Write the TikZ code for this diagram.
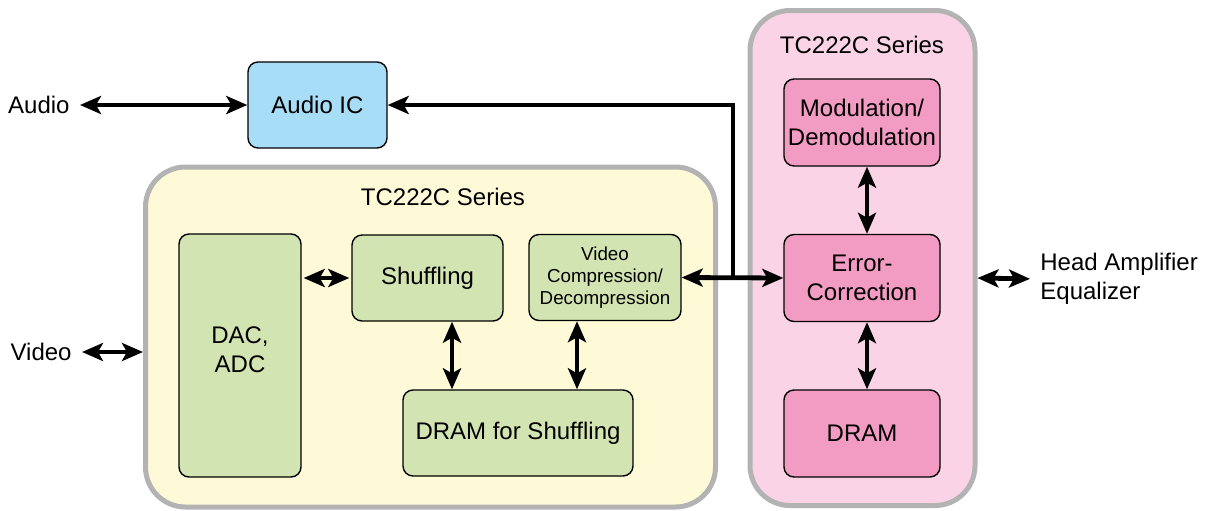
\documentclass[tikz,border=0pt]{standalone}
\usepackage{fontspec}
\setmainfont{Liberation Sans}
\usetikzlibrary{positioning,shapes,arrows.meta}
\definecolor{icblue}{HTML}{A8DDF8}
\definecolor{boxgreen}{HTML}{D2E4B1}
\definecolor{areayellow}{HTML}{FEFAD8}
\definecolor{arealpink}{HTML}{FAD4E6}
\definecolor{boxpink}{HTML}{F39CC3}
\definecolor{framegray}{HTML}{B3B3B3}
\tikzset{
	blk/.style={draw=black,line width=0.7pt,rounded corners=5pt,align=center,inner sep=1pt,
		font=\fontsize{12}{14.5}\selectfont},
	grnblk/.style={blk,fill=boxgreen},
	pnkblk/.style={blk,fill=boxpink,minimum width=78pt,minimum height=43.5pt},
	area/.style={draw=framegray,line width=2.5pt,rounded corners=20pt},
	lbl/.style={inner sep=1pt,align=left,font=\fontsize{12}{14.5}\selectfont},
	biarrow/.style={line width=2.4pt,{Stealth[length=10.5pt,width=9pt,inset=2.5pt]}-{Stealth[length=10.5pt,width=9pt,inset=2.5pt]}},
	onearrow/.style={line width=2.4pt,-{Stealth[length=10.5pt,width=9pt,inset=2.5pt]}}
}
\begin{document}
\begin{tikzpicture}[x=0.5pt,y=-0.5pt]
	\useasboundingbox (0,0) rectangle (1212,510);
	% frames
	\node[area,fill=areayellow,minimum width=285pt,minimum height=170pt] (Ya) at (430.5,337) {};
	\node[area,fill=arealpink,minimum width=112.5pt,minimum height=247.5pt] (Pa) at (862.5,258) {};
	\node[lbl] (Yt) at (443,197) {TC222C Series};
	\node[lbl] (Pt) at (862,45) {TC222C Series};
	%
	\node[blk,fill=icblue,minimum width=69.5pt,minimum height=43pt] (AIC) at (317.5,105) {Audio IC};
	\node[grnblk,minimum width=61pt,minimum height=121.5pt] (DAC) at (240,355.5) {DAC,\\ADC\\[-8.5pt]};
	\node[grnblk,minimum width=75.5pt,minimum height=43pt] (Shuf) at (427.5,278) {Shuffling};
	\node[grnblk,minimum width=76pt,minimum height=43pt,font=\fontsize{9.4}{11}\selectfont] (VC) at (605,277.5) {Video\\Compression/\\Decompression};
	\node[grnblk,minimum width=115pt,minimum height=43pt] (DS) at (518,433) {DRAM for Shuffling};
	%
	\node[pnkblk] (Mod) at (862,122.5) {Modulation/\\Demodulation};
	\node[pnkblk] (EC) at (862,278) {Error-\\Correction};
	\node[pnkblk] (DR) at (862,433.5) {DRAM};
	%
	\node[lbl,anchor=east] (Au) at (72,105) {Audio};
	\node[lbl,anchor=east] (Vi) at (74,352) {Video};
	\node[lbl,anchor=west] (HA) at (1038,279) {Head Amplifier\\Equalizer};
	%
	\coordinate (J) at (733,278);
	%
	\draw[biarrow,shorten <=4pt] (Au.east) -- (AIC.west);
	\draw[biarrow,shorten <=4pt] (Vi.east) -- (Vi.east -| Ya.west);
	\draw[biarrow,shorten <=1pt,shorten >=1pt] (DAC.east |- Shuf.west) -- (Shuf.west);
	\draw[biarrow] ([xshift=12.25pt]Shuf.south) -- ([xshift=12.25pt]Shuf.south |- DS.north);
	\draw[biarrow] ([xshift=-14pt]VC.south) -- ([xshift=-14pt]VC.south |- DS.north);
	\draw[biarrow] (VC.east) -- (EC.west);
	\draw[onearrow,line cap=rect] (J) |- (AIC.east);
	\draw[biarrow] ([xshift=2.5pt]Mod.south) -- ([xshift=2.5pt]EC.north);
	\draw[biarrow] ([xshift=2.5pt]EC.south) -- ([xshift=2.5pt]DR.north);
	\draw[biarrow,shorten >=4pt] (Pa.east |- EC.east) -- (HA.west);
\end{tikzpicture}
\end{document}
